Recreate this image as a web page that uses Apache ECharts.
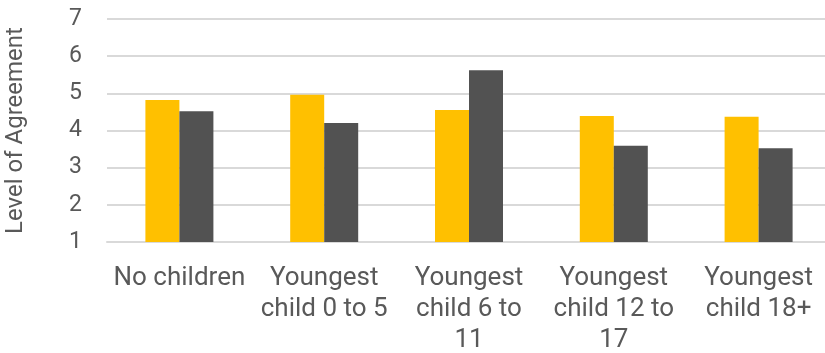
<!DOCTYPE html>
<html>
<head>
<meta charset="utf-8">
<script src="https://cdn.jsdelivr.net/npm/echarts@6/dist/echarts.min.js"></script>
<style>
  html, body { margin: 0; padding: 0; background: #fff; overflow: hidden; }
  #chart { width: 825px; height: 353px; }
</style>
</head>
<body>
<div id="chart"></div>
<script>
// Age groups of the youngest child, with line breaks as they wrap under the axis
const categories = [
  'No children',
  'Youngest\nchild 0 to 5',
  'Youngest\nchild 6 to\n11',
  'Youngest\nchild 12 to\n17',
  'Youngest\nchild 18+'
];
// Mean agreement for the two groups compared
const seriesA = [4.82, 4.96, 4.55, 4.39, 4.37];
const seriesB = [4.52, 4.20, 5.62, 3.59, 3.52];
const yTicks = { min: 1, max: 7, interval: 1 };

const FONT = 'Roboto';
const TEXT = '#595959';

const chart = echarts.init(document.getElementById('chart'), null, { renderer: 'canvas' });
chart.setOption({
  animation: false,
  grid: {
    left: 107, top: 19, width: 724, bottom: 111,
    containLabel: false, outerBoundsMode: 'none'
  },
  xAxis: {
    type: 'category',
    data: categories,
    axisLine: { show: true, lineStyle: { color: '#D9D9D9', width: 2 } },
    axisTick: { show: false },
    axisLabel: {
      interval: 0,
      margin: 21,
      color: TEXT,
      fontFamily: FONT,
      fontSize: 26,
      lineHeight: 31
    }
  },
  yAxis: {
    type: 'value',
    min: yTicks.min,
    max: yTicks.max,
    interval: yTicks.interval,
    name: 'Level of Agreement',
    nameLocation: 'middle',
    nameGap: 79,
    nameRotate: 90,
    nameTextStyle: { color: TEXT, fontFamily: FONT, fontSize: 24 },
    axisLine: { show: false },
    axisTick: { show: false },
    axisLabel: { margin: 25, color: TEXT, fontFamily: FONT, fontSize: 23 },
    splitLine: { lineStyle: { color: '#D9D9D9', width: 2 } }
  },
  series: [
    {
      type: 'bar',
      data: seriesA,
      barWidth: 34,
      barGap: '0%',
      itemStyle: { color: '#FFC000' }
    },
    {
      type: 'bar',
      data: seriesB,
      barWidth: 34,
      barGap: '0%',
      itemStyle: { color: '#525252' }
    }
  ]
});
</script>
</body>
</html>
